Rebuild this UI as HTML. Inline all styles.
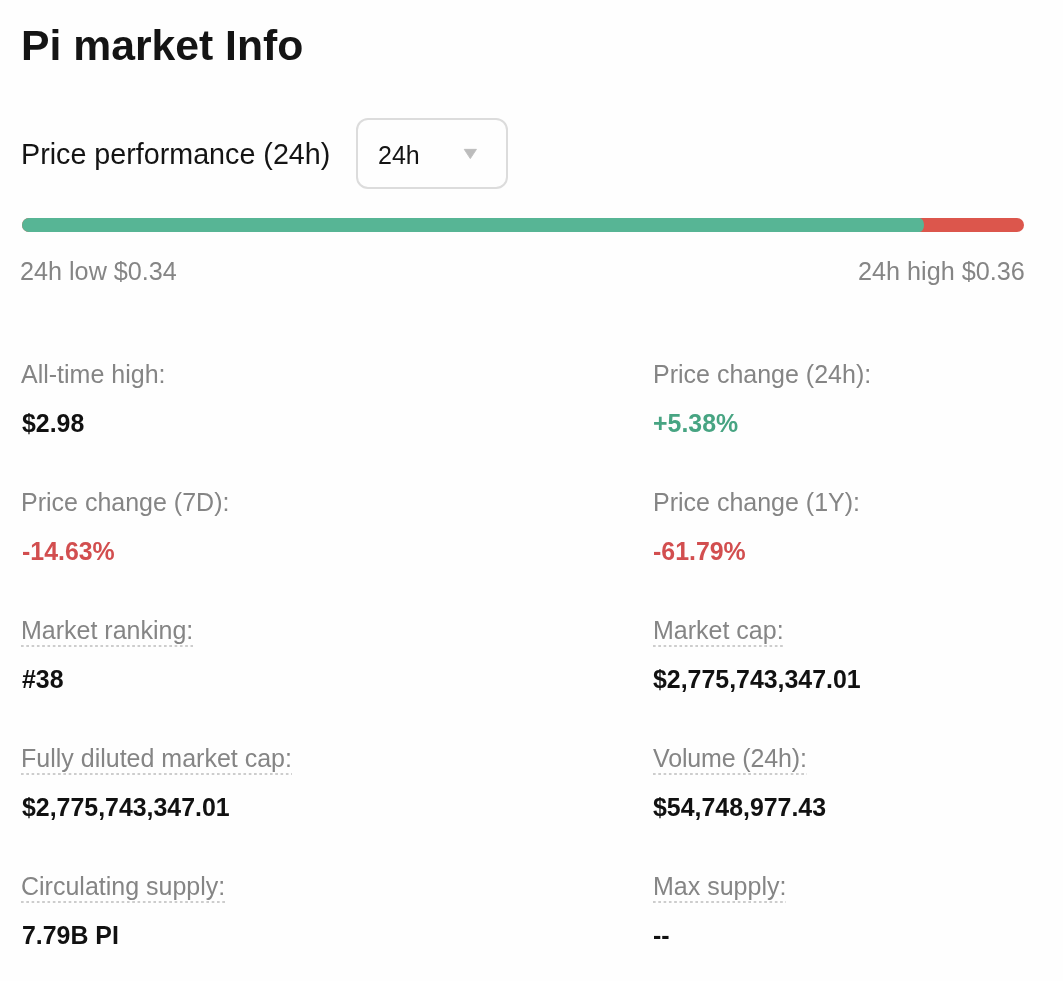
<!DOCTYPE html>
<html lang="en">
<head>
<meta charset="utf-8">
<title>Pi market Info</title>
<style>
html,body{margin:0;padding:0;background:#fefefe;}
body{width:1063px;height:981px;position:relative;overflow:hidden;font-family:"Liberation Sans",Arial,Helvetica,sans-serif;}
.t{position:absolute;white-space:nowrap;line-height:1;will-change:transform;}
h1.t{margin:0;font-weight:bold;font-size:42.7px;color:#141414;left:21px;top:23.8px;}
.perf{font-size:28.7px;color:#141414;left:21px;top:140.3px;}
.dd{position:absolute;left:356px;top:118px;width:152px;height:71px;box-sizing:border-box;border:2px solid #dcdcdc;border-radius:12px;}
.dd .v{position:absolute;left:19.5px;top:23.4px;font-size:25px;color:#141414;line-height:1;will-change:transform;}
.dd .arr{position:absolute;left:105.1px;top:28.1px;width:15px;height:12px;}
.bar{position:absolute;left:21.5px;top:218px;width:1002.5px;height:14px;border-radius:7px;background:#dc564c;}
.bar i{position:absolute;left:0;top:0;height:14px;width:902.5px;border-radius:7px 4.5px 4.5px 7px / 7px;background:#57b595;}
.lh{font-size:25.2px;color:#858585;}
.lab{font-size:25px;color:#858585;}
.val{font-size:24.9px;font-weight:bold;color:#111;}
.g{color:#47a482;}
.r{color:#d24e4f;}
.u{background-image:linear-gradient(to right,#cdcdcd 45%,transparent 45%);background-size:5.3px 1.8px;background-repeat:repeat-x;background-position:0 100%;padding-bottom:4px;}
</style>
</head>
<body>
<h1 class="t">Pi market Info</h1>
<div class="t perf">Price performance (24h)</div>
<div class="dd"><span class="v">24h</span><svg class="arr" viewBox="0 0 15 12" width="15" height="12"><polygon points="1.25,1.35 13.45,1.35 7.3,10.6" fill="#bcbcbc" stroke="#bcbcbc" stroke-width="0.9" stroke-linejoin="round"/></svg></div>
<div class="bar"><i></i></div>
<div class="t lh" style="left:20.4px;top:258.7px">24h low $0.34</div>
<div class="t lh" style="right:38.6px;top:258.7px">24h high $0.36</div>

<div class="t lab" style="left:20.5px;top:361.5px">All-time high:</div>
<div class="t val" style="left:21.5px;top:411px">$2.98</div>
<div class="t lab" style="left:652.7px;top:361.5px">Price change (24h):</div>
<div class="t val g" style="left:653.3px;top:411px">+5.38%</div>

<div class="t lab" style="left:20.5px;top:489.5px">Price change (7D):</div>
<div class="t val r" style="left:21.5px;top:539px">-14.63%</div>
<div class="t lab" style="left:652.7px;top:489.5px">Price change (1Y):</div>
<div class="t val r" style="left:653.3px;top:539px">-61.79%</div>

<div class="t lab u" style="left:20.5px;top:617.5px">Market ranking:</div>
<div class="t val" style="left:21.5px;top:667px">#38</div>
<div class="t lab u" style="left:652.7px;top:617.5px">Market cap:</div>
<div class="t val" style="left:653.3px;top:667px">$2,775,743,347.01</div>

<div class="t lab u" style="left:20.5px;top:745.5px">Fully diluted market cap:</div>
<div class="t val" style="left:21.5px;top:795px">$2,775,743,347.01</div>
<div class="t lab u" style="left:652.7px;top:745.5px;letter-spacing:-0.14px">Volume (24h):</div>
<div class="t val" style="left:653.3px;top:795px">$54,748,977.43</div>

<div class="t lab u" style="left:20.5px;top:873.5px">Circulating supply:</div>
<div class="t val" style="left:21.5px;top:923px">7.79B PI</div>
<div class="t lab u" style="left:652.7px;top:873.5px">Max supply:</div>
<div class="t val" style="left:653.3px;top:923px">--</div>
</body>
</html>
